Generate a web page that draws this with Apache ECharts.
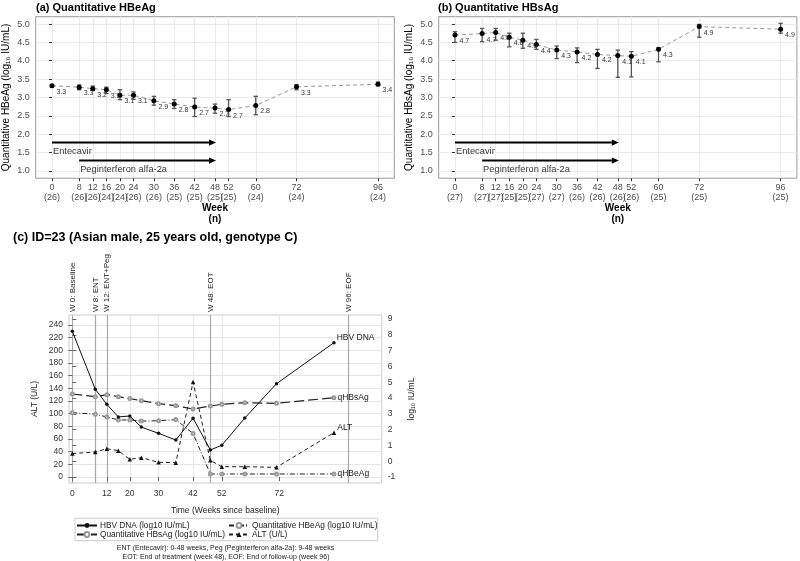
<!DOCTYPE html>
<html><head><meta charset="utf-8">
<script src="https://cdn.jsdelivr.net/npm/echarts@6/dist/echarts.min.js"></script>
<style>html,body{margin:0;padding:0;background:#fff}#c{width:800px;height:561px}</style>
</head><body><div id="c"></div>
<script>
// ---------- Panels (a) and (b) ----------
const weeks = [0, 8, 12, 16, 20, 24, 30, 36, 42, 48, 52, 60, 72, 96];
const nHBeAg = [26, 26, 26, 24, 24, 26, 26, 25, 25, 25, 25, 24, 24, 24];
const nHBsAg = [27, 27, 27, 25, 25, 27, 27, 26, 26, 26, 26, 25, 25, 25];

const hbeagMean = [3.32, 3.28, 3.24, 3.21, 3.06, 3.06, 2.91, 2.82, 2.74, 2.71, 2.67, 2.78, 3.29, 3.36];
const hbeagLow  = [3.29, 3.21, 3.19, 3.11, 2.94, 2.95, 2.79, 2.70, 2.48, 2.57, 2.48, 2.53, 3.21, 3.32];
const hbeagHigh = [3.35, 3.34, 3.31, 3.28, 3.21, 3.15, 3.03, 2.94, 2.98, 2.82, 2.94, 3.03, 3.35, 3.42];
const hbeagLabels = ['3.3','3.3','3.2','3.2','3.1','3.1','2.9','2.8','2.7','2.7','2.7','2.8','3.3','3.4'];

const hbsagMean = [4.70, 4.74, 4.77, 4.64, 4.56, 4.44, 4.29, 4.24, 4.17, 4.14, 4.12, 4.31, 4.93, 4.86];
const hbsagLow  = [4.50, 4.52, 4.56, 4.38, 4.34, 4.31, 4.06, 3.95, 3.79, 3.55, 3.56, 3.97, 4.64, 4.75];
const hbsagHigh = [4.79, 4.88, 4.88, 4.75, 4.75, 4.58, 4.40, 4.35, 4.31, 4.29, 4.25, 4.35, 4.99, 5.02];
const hbsagLabels = ['4.7','4.7','4.8','4.6','4.6','4.4','4.3','4.2','4.2','4.1','4.1','4.3','4.9','4.9'];

const yTicksAB = [1.0, 1.5, 2.0, 2.5, 3.0, 3.5, 4.0, 4.5, 5.0];

const arrowStart = [0, 8];
const arrowEnd = [48, 48];
const arrowY = [1.77, 1.28];
const annotText = ['Entecavir', 'Peginterferon alfa-2a'];
const annotX = [0, 8];
const annotY = [1.54, 1.05];

// ---------- Panel (c) ----------
const cWeeks = [0, 8, 12, 16, 20, 24, 30, 36, 42, 48, 52, 60, 71, 91];
const hbvDna = [8.22, 4.55, 3.60, 2.80, 2.86, 2.16, 1.76, 1.34, 2.72, 0.71, 1.01, 2.73, 4.90, 7.50];
const qHBsAg = [4.25, 4.08, 4.21, 4.08, 3.96, 3.83, 3.64, 3.51, 3.30, 3.49, 3.60, 3.70, 3.66, 4.02];
const qHBeAg = [3.07, 2.97, 2.80, 2.61, 2.61, 2.54, 2.56, 2.63, 1.75, -0.81, -0.81, -0.81, -0.81, -0.81];
const alt    = [37, 39.5, 44.7, 41.6, 27.9, 30.5, 23.2, 22.6, 150, 26.3, 16.3, 16.3, 15.3, 70];
const cXTicks = [0, 12, 20, 30, 42, 52, 72];
const altTicks = [0, 20, 40, 60, 80, 100, 120, 140, 160, 180, 200, 220, 240];
const logTicks = [-1, 0, 1, 2, 3, 4, 5, 6, 7, 8, 9];
const refWeeks = [0, 8, 12, 48, 96];
const refLabels = ['W 0: Baseline', 'W 8: ENT', 'W 12: ENT+Peg', 'W 48: EOT', 'W 96: EOF'];
const endLabels = ['HBV DNA', 'qHBsAg', 'qHBeAg', 'ALT'];
const seriesNames = ['HBV DNA (log10 IU/mL)', 'Quantitative HBsAg (log10 IU/mL)', 'Quantitative HBeAg (log10 IU/mL)', 'ALT (U/L)'];
const footnotes = ['ENT (Entecavir): 0-48 weeks, Peg (Peginterferon alfa-2a): 9-48 weeks',
                   'EOT: End of treatment (week 48), EOF: End of follow-up (week 96)'];

const FONT = '"Liberation Sans", Arial, Helvetica, sans-serif';
const chart = echarts.init(document.getElementById('c'), null, {renderer: 'canvas', width: 800, height: 561});

function abXAxis(g, nArr) {
  return {
    gridIndex: g, type: 'value', min: -4.8, max: 100.8,
    axisLine: {show: false},
    axisTick: {show: true, customValues: weeks, length: 3, lineStyle: {color: '#333', width: 1}},
    axisLabel: {customValues: weeks, fontSize: 9, color: '#4d4d4d', fontFamily: FONT, lineHeight: 10, margin: 4,
      formatter: v => v + '\n(' + nArr[weeks.indexOf(v)] + ')'},
    splitLine: {show: true, lineStyle: {color: '#ebebeb', width: 1}},
    name: 'Week\n(n)', nameLocation: 'middle', nameGap: 22,
    nameTextStyle: {fontSize: 10, fontWeight: 'bold', color: '#000', fontFamily: FONT, lineHeight: 11}
  };
}
function abYAxis(g, name) {
  return {
    gridIndex: g, type: 'value', min: 0.8, max: 5.2,
    axisLine: {show: false},
    axisTick: {show: true, customValues: yTicksAB, length: 3, lineStyle: {color: '#333', width: 1}},
    axisLabel: {customValues: yTicksAB, fontSize: 9, color: '#4d4d4d', fontFamily: FONT, margin: 6,
      formatter: v => v.toFixed(1)},
    splitLine: {show: true, lineStyle: {color: '#ebebeb', width: 1}},
    name: name, nameLocation: 'middle', nameGap: 24, nameRotate: 90,
    nameTextStyle: {fontSize: 10, color: '#000', fontFamily: FONT}
  };
}
function abSeries(g, mean, low, high, labels) {
  return [
    {
      type: 'custom', xAxisIndex: g, yAxisIndex: g, z: 3, silent: true,
      data: weeks.map((w, i) => [w, low[i], high[i]]),
      renderItem: function (params, api) {
        const x = api.value(0);
        const p1 = api.coord([x, api.value(1)]);
        const p2 = api.coord([x, api.value(2)]);
        const hw = 2.2;
        const st = {stroke: '#555', lineWidth: 1.3};
        return {type: 'group', children: [
          {type: 'line', shape: {x1: p1[0], y1: p1[1], x2: p2[0], y2: p2[1]}, style: st},
          {type: 'line', shape: {x1: p1[0] - hw, y1: p1[1], x2: p1[0] + hw, y2: p1[1]}, style: st},
          {type: 'line', shape: {x1: p2[0] - hw, y1: p2[1], x2: p2[0] + hw, y2: p2[1]}, style: st}
        ]};
      }
    },
    {
      type: 'line', xAxisIndex: g, yAxisIndex: g, z: 4,
      data: weeks.map((w, i) => [w, mean[i]]),
      symbol: 'circle', symbolSize: 5,
      itemStyle: {color: '#000'},
      lineStyle: {color: '#999', width: 1, type: [4, 3]},
      label: {show: true, position: 'right', distance: 2, offset: [0, 6], fontSize: 7, color: '#333', fontFamily: FONT,
        formatter: p => labels[p.dataIndex]}
    },
    {
      type: 'custom', xAxisIndex: g, yAxisIndex: g, z: 5, silent: true,
      data: arrowStart.map((s, i) => [s, arrowEnd[i], arrowY[i]]),
      renderItem: function (params, api) {
        const a = api.coord([api.value(0), api.value(2)]);
        const b = api.coord([api.value(1), api.value(2)]);
        const hl = 7, hh = 3.2;
        return {type: 'group', children: [
          {type: 'line', shape: {x1: a[0], y1: a[1], x2: b[0] - hl + 1, y2: b[1]}, style: {stroke: '#000', lineWidth: 2}},
          {type: 'polygon', shape: {points: [[b[0] + 1, b[1]], [b[0] + 1 - hl, b[1] - hh], [b[0] + 1 - hl, b[1] + hh]]}, style: {fill: '#000'}}
        ]};
      }
    },
    {
      type: 'scatter', xAxisIndex: g, yAxisIndex: g, symbolSize: 0, silent: true,
      data: annotX.map((x, i) => [x, annotY[i], annotText[i]]),
      label: {show: true, position: 'right', distance: 1, fontSize: 9.3, color: '#000', fontFamily: FONT,
        formatter: p => p.data[2]}
    }
  ];
}

function endLabelData(xs, ys, lbl, dy) {
  return xs.map((w, i) => {
    if (i === xs.length - 1) {
      return {value: [w, ys[i]], label: {show: true, formatter: lbl, position: 'right', distance: 1, offset: [0, dy],
        fontSize: 8.5, color: '#222', fontFamily: FONT}};
    }
    return [w, ys[i]];
  });
}

const option = {
  animation: false,
  backgroundColor: '#fff',
  textStyle: {fontFamily: FONT},
  title: [
    {text: '(a) Quantitative HBeAg', left: 36, top: 2, padding: 0, textStyle: {fontSize: 11, fontWeight: 'bold', color: '#000', fontFamily: FONT}},
    {text: '(b) Quantitative HBsAg', left: 438, top: 2, padding: 0, textStyle: {fontSize: 11, fontWeight: 'bold', color: '#000', fontFamily: FONT}},
    {text: '(c) ID=23 (Asian male, 25 years old, genotype C)', left: 13, top: 231, padding: 0, textStyle: {fontSize: 12.5, fontWeight: 'bold', color: '#000', fontFamily: FONT}}
  ],
  grid: [
    {left: 35.7, top: 16.7, width: 358.6, height: 161.5, show: true, borderColor: '#999', borderWidth: 1, outerBoundsMode: 'none'},
    {left: 438.7, top: 16.7, width: 358.2, height: 161.5, show: true, borderColor: '#999', borderWidth: 1, outerBoundsMode: 'none'},
    {left: 69, top: 315, width: 312.7, height: 168, show: true, borderColor: '#ccc', borderWidth: 1, outerBoundsMode: 'none'}
  ],
  xAxis: [
    abXAxis(0, nHBeAg),
    abXAxis(1, nHBsAg),
    {
      gridIndex: 2, type: 'value', min: -1.15, max: 107.6, position: 'bottom',
      axisLine: {show: false},
      axisTick: {show: true, customValues: cXTicks, length: 4, lineStyle: {color: '#666'}},
      axisLabel: {customValues: cXTicks, fontSize: 8.5, color: '#333', fontFamily: FONT, margin: 6},
      splitLine: {show: true, lineStyle: {color: '#e6e6e6', width: 1}},
      name: 'Time (Weeks since baseline)', nameLocation: 'middle', nameGap: 23,
      nameTextStyle: {fontSize: 8.5, color: '#222', fontFamily: FONT}
    },
    {
      gridIndex: 2, type: 'value', min: -1.15, max: 107.6, position: 'top',
      axisLine: {show: false},
      axisTick: {show: false, customValues: refWeeks},
      axisLabel: {customValues: refWeeks, rotate: 90, fontSize: 8, color: '#222', fontFamily: FONT, margin: 3,
        formatter: v => refLabels[refWeeks.indexOf(v)]},
      splitLine: {show: true, lineStyle: {color: '#a8a8a8', width: 1.2}}
    }
  ],
  yAxis: [
    abYAxis(0, 'Quantitative HBeAg (log₁₀ IU/mL)'),
    abYAxis(1, 'Quantitative HBsAg (log₁₀ IU/mL)'),
    {
      gridIndex: 2, type: 'value', min: -9.47, max: 255.8, position: 'left',
      axisLine: {show: false},
      axisTick: {show: true, customValues: altTicks, length: 4, lineStyle: {color: '#666'}},
      axisLabel: {customValues: altTicks, fontSize: 8.5, color: '#333', fontFamily: FONT, margin: 6},
      splitLine: {show: true, lineStyle: {color: '#e6e6e6', width: 1}},
      name: 'ALT (U/L)', nameLocation: 'middle', nameGap: 30, nameRotate: 90,
      nameTextStyle: {fontSize: 8.5, color: '#222', fontFamily: FONT}
    },
    {
      gridIndex: 2, type: 'value', min: -1.38, max: 9.25, position: 'right',
      axisLine: {show: false},
      axisTick: {show: true, customValues: logTicks, length: 4, lineStyle: {color: '#666'}},
      axisLabel: {customValues: logTicks, fontSize: 8.5, color: '#333', fontFamily: FONT, margin: 6},
      splitLine: {show: false},
      name: 'log₁₀ IU/mL', nameLocation: 'middle', nameGap: 25, nameRotate: 90,
      nameTextStyle: {fontSize: 8.5, color: '#222', fontFamily: FONT}
    }
  ],
  legend: [
    {orient: 'vertical', left: 76, top: 521.5, itemWidth: 20, itemHeight: 6, itemGap: 1, padding: 0,
      data: [seriesNames[0], seriesNames[1]], selectedMode: false,
      textStyle: {fontSize: 8.3, color: '#222', fontFamily: FONT, padding: [0, 0, 0, -2]}},
    {orient: 'vertical', left: 228, top: 521.5, itemWidth: 20, itemHeight: 6, itemGap: 1, padding: 0,
      data: [seriesNames[2], seriesNames[3]], selectedMode: false,
      textStyle: {fontSize: 8.3, color: '#222', fontFamily: FONT, padding: [0, 0, 0, -2]}}
  ],
  graphic: [
    {type: 'rect', shape: {x: 75, y: 518.3, width: 302.7, height: 22.4}, style: {fill: 'none', stroke: '#ccc', lineWidth: 1}, silent: true},
    {type: 'text', x: 225.5, y: 548.5, silent: true, style: {text: footnotes[0], font: '7px ' + FONT, fill: '#222', textAlign: 'center', textVerticalAlign: 'middle'}},
    {type: 'text', x: 226, y: 557, silent: true, style: {text: footnotes[1], font: '7px ' + FONT, fill: '#222', textAlign: 'center', textVerticalAlign: 'middle'}}
  ],
  series: [
    ...abSeries(0, hbeagMean, hbeagLow, hbeagHigh, hbeagLabels),
    ...abSeries(1, hbsagMean, hbsagLow, hbsagHigh, hbsagLabels),
    {
      name: seriesNames[0], type: 'line', xAxisIndex: 2, yAxisIndex: 3, z: 6,
      data: endLabelData(cWeeks, hbvDna, endLabels[0], -5),
      symbol: 'circle', symbolSize: 3.5,
      itemStyle: {color: '#111'}, lineStyle: {color: '#111', width: 1, type: 'solid'}
    },
    {
      name: seriesNames[1], type: 'line', xAxisIndex: 2, yAxisIndex: 3, z: 5,
      data: endLabelData(cWeeks, qHBsAg, endLabels[1], 0),
      symbol: 'emptyCircle', symbolSize: 3,
      itemStyle: {color: '#999', borderWidth: 0.8}, lineStyle: {color: '#222', width: 1.2, type: [10, 4]}
    },
    {
      name: seriesNames[2], type: 'line', xAxisIndex: 2, yAxisIndex: 3, z: 5,
      data: endLabelData(cWeeks, qHBeAg, endLabels[2], 0),
      symbol: 'emptyCircle', symbolSize: 3,
      itemStyle: {color: '#999', borderWidth: 0.8}, lineStyle: {color: '#222', width: 1, type: [5, 2, 1, 2]}
    },
    {
      name: seriesNames[3], type: 'line', xAxisIndex: 2, yAxisIndex: 2, z: 5,
      data: endLabelData(cWeeks, alt, endLabels[3], -5),
      symbol: 'triangle', symbolSize: 4.5,
      itemStyle: {color: '#111'}, lineStyle: {color: '#222', width: 1, type: [4, 3]}
    }
  ]
};
chart.setOption(option);
</script>
</body></html>
